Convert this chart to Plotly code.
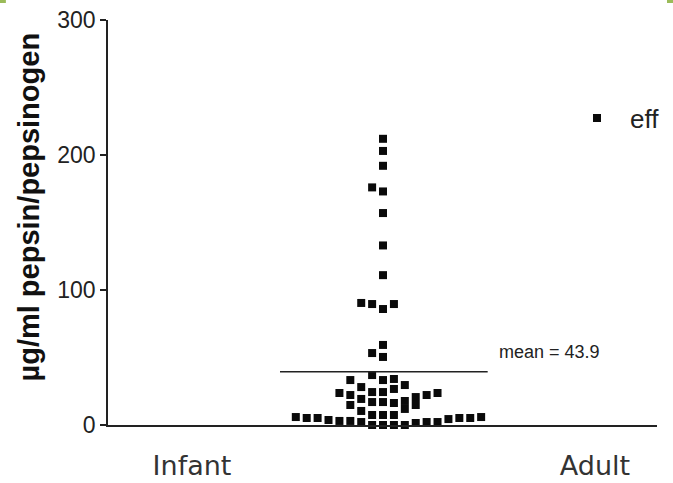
import plotly.graph_objects as go

# ---- data ----
group_labels = ["Infant", "Adult"]
group_positions = [0, 1]

# beeswarm column index (relative to cluster centre) and value, Adult samples
adult_slots = [0, 0, 0, -1, 0, 0, 0, 0, -2, -1, 0, 1, 0, -1, 0,
               -8, -7, -6, -5,
               -4, -4,
               -3, -3, -3, -3,
               -2, -2, -2, -2,
               -1, -1, -1, -1, -1,
               0, 0, 0, 0, 0,
               1, 1, 1, 1, 1,
               2, 2, 2, 2,
               3, 3, 3,
               4, 4,
               5, 5,
               6, 7, 8, 9]
adult_values = [212, 203, 192, 176, 173, 157, 133, 111, 90.4, 89.6, 85.9, 89.6, 59.3, 53.3, 50.4,
                5.9, 5.2, 5.2, 3.7,
                23.7, 3.0,
                33.3, 22.2, 14.8, 3.0,
                28.1, 19.3, 10.4, 2.2,
                37.0, 24.4, 17.0, 7.4, 0,
                33.3, 24.4, 17.0, 7.4, 0,
                34.1, 26.7, 16.3, 7.4, 0,
                29.6, 17.8, 11.9, 0,
                20.7, 14.8, 1.5,
                22.2, 2.2,
                23.7, 2.2,
                4.4, 5.2, 5.2, 5.9]

mean_line_value = 39.5
mean_label = "mean = 43.9"
y_ticks = [0, 100, 200, 300]
legend_name = "eff"

# ---- layout constants ----
cluster_center = 0.474
slot_width = 0.02705
mean_line_slots = (-9.45, 9.6)

xs = [cluster_center + s * slot_width for s in adult_slots]

fig = go.Figure()
fig.add_trace(go.Scatter(
    x=xs, y=adult_values, mode="markers", name=legend_name,
    marker=dict(symbol="square", size=8, color="#0a0a0a"),
    cliponaxis=False, showlegend=True,
))

x0 = cluster_center + mean_line_slots[0] * slot_width
x1 = cluster_center + mean_line_slots[1] * slot_width
fig.add_shape(type="line", xref="x", yref="y", x0=x0, x1=x1,
              y0=mean_line_value, y1=mean_line_value,
              line=dict(color="#222", width=1.5))
fig.add_annotation(x=x1, y=mean_line_value, xref="x", yref="y",
                   text=mean_label, showarrow=False, xanchor="left", yanchor="middle",
                   xshift=9, yshift=20,
                   font=dict(family="Liberation Sans, Arial", size=18, color="#222"))

fig.add_annotation(xref="paper", yref="paper", x=0, y=0.537, xshift=-79,
                   text="µg/ml pepsin/pepsinogen", textangle=-90, showarrow=False,
                   xanchor="center", yanchor="middle",
                   font=dict(family="Liberation Sans, Arial", size=29, color="#111", weight="bold"))

# decorative slide corner marks
for cx0, cx1 in [(-0.1967, -0.186), (1.0182, 1.0292)]:
    fig.add_shape(type="rect", xref="paper", yref="paper", x0=cx0, x1=cx1, y0=1.042, y1=1.0494,
                  line=dict(width=0), fillcolor="#9bbb59")

fig.update_layout(
    width=673, height=483,
    margin=dict(l=108, r=16, t=20, b=58, autoexpand=False),
    paper_bgcolor="white", plot_bgcolor="white",
    showlegend=True,
    legend=dict(x=0.8306, y=0.758, xanchor="left", yanchor="middle",
                itemwidth=56,
                bgcolor="rgba(0,0,0,0)",
                font=dict(family="Liberation Sans, Arial", size=26, color="#222")),
    xaxis=dict(range=[-0.2084, 1.1538], tickvals=group_positions, ticktext=group_labels,
               showline=True, linecolor="#222", linewidth=1.5, ticks="",
               showgrid=False, zeroline=False, automargin=False,
               ticklabelstandoff=16,
               tickfont=dict(family="DejaVu Sans", size=27, color="#333")),
    yaxis=dict(range=[0, 300], tickvals=y_ticks, ticks="outside", ticklen=6,
               tickcolor="#222", tickwidth=1.5,
               showline=True, linecolor="#222", linewidth=1.5,
               showgrid=False, zeroline=False, automargin=False,
               tickfont=dict(family="Liberation Sans, Arial", size=23, color="#222")),
)

fig.write_html("out.html")
